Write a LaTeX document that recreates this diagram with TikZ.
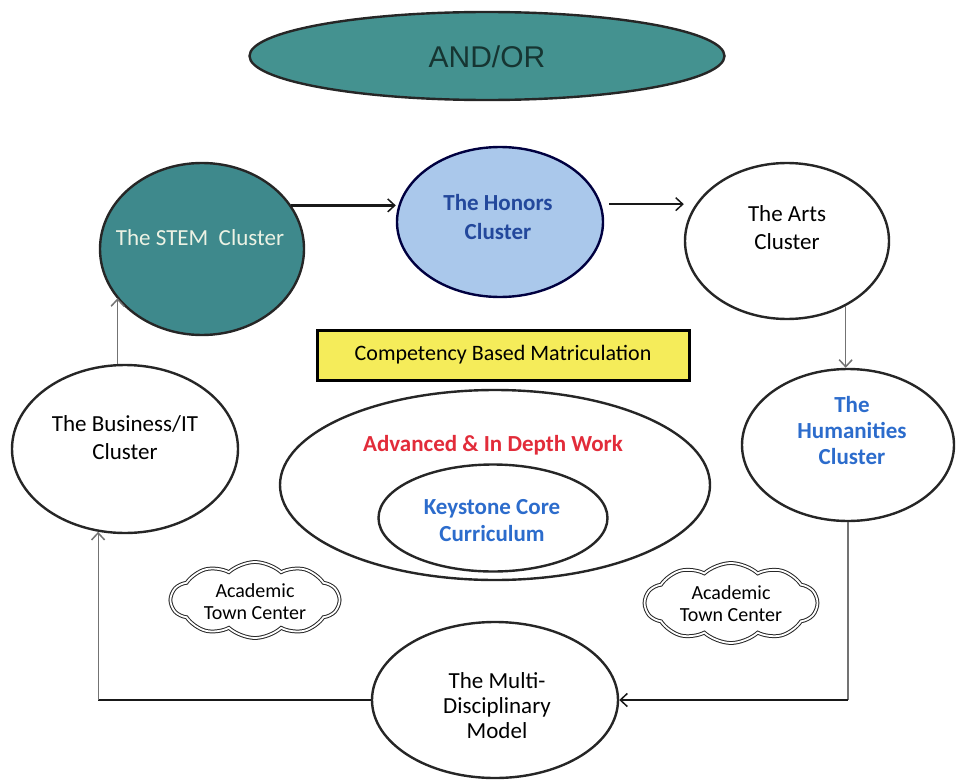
\documentclass[tikz,border=0pt]{standalone}
\usepackage{fontspec}
\setmainfont{Carlito}
\usetikzlibrary{shapes.geometric,shapes.symbols,arrows.meta,calc}
\definecolor{tealA}{RGB}{68,146,144}
\definecolor{tealS}{RGB}{62,137,140}
\definecolor{honfill}{RGB}{170,200,235}
\definecolor{hontext}{RGB}{35,72,156}
\definecolor{bluetext}{RGB}{44,108,204}
\definecolor{redtext}{RGB}{226,44,58}
\definecolor{yel}{RGB}{245,236,90}
\definecolor{stemtext}{RGB}{236,242,228}
\definecolor{andtext}{RGB}{22,53,50}
\begin{document}
\begin{tikzpicture}[x=1pt,y=-1pt,
  ell/.style={ellipse, draw=black!85, line width=2.4pt, inner sep=0pt},
  txt/.style={align=center, inner sep=0pt},
  hline/.style={draw=black!90, line width=2.2pt},
  vline/.style={draw=black!55, line width=1.2pt},
  tip/.style={-{Straight Barb[length=7pt,width=13pt,line width=1.5pt]}},
  cloudbox/.style={cloud, cloud puffs=10, cloud puff arc=85, draw=black!85, double=white, double distance=1.8pt, line width=1pt, inner sep=0pt}
]
\useasboundingbox (0,0) rectangle (961,784);

% top ellipse
\node[ell, fill=tealA, minimum width=475pt, minimum height=88pt] (andor) at (487,56) {};
\node[txt, text=andtext, font=\fontsize{30}{34}\fontspec{Liberation Sans}] (andorT) at (487,57) {AND/OR};

% clusters
\node[ell, fill=tealS, minimum width=204pt, minimum height=172pt] (stem) at (202,249) {};
\node[txt, text=stemtext, font=\fontsize{23}{28}\selectfont] (stemT) at (200,238) {The STEM\ \ Cluster};

\node[ell, fill=honfill, draw=black!75!blue, minimum width=206pt, minimum height=150pt] (honors) at (500,222) {};
\node[txt, text=hontext, font=\fontsize{23}{29}\selectfont\bfseries] (honorsT) at (498,217) {The Honors\\Cluster};

\node[ell, fill=white, minimum width=204pt, minimum height=156pt] (arts) at (787,241) {};
\node[txt, font=\fontsize{23}{28}\selectfont] (artsT) at (787,228) {The Arts\\Cluster};

\node[ell, fill=white, minimum width=212pt, minimum height=152pt] (hum) at (848,445) {};
\node[txt, text=bluetext, font=\fontsize{23}{26}\selectfont\bfseries] (humT) at (852,431) {The\\Humanities\\Cluster};

\node[ell, fill=white, minimum width=226pt, minimum height=168pt] (biz) at (125,449) {};
\node[txt, font=\fontsize{23}{28}\selectfont] (bizT) at (125,438) {The Business/IT\\Cluster};

\node[ell, fill=white, minimum width=246pt, minimum height=156pt] (multi) at (495,700) {};
\node[txt, font=\fontsize{23}{25}\selectfont] (multiT) at (497,706) {The Multi-\\Disciplinary\\Model};

% yellow bar
\node[draw=black, line width=3pt, fill=yel, minimum width=372pt, minimum height=50pt, inner sep=0pt,
      font=\fontsize{22}{26}\selectfont] (cbm) at (503,355) {Competency Based Matriculation};

% nested ellipses
\node[ell, fill=white, minimum width=430pt, minimum height=190pt] (adv) at (495,485) {};
\node[txt, text=redtext, font=\fontsize{23}{28}\selectfont\bfseries] (advT) at (493,445) {Advanced \& In Depth Work};
\node[ell, fill=white, minimum width=229pt, minimum height=107pt] (key) at (493,518) {};
\node[txt, text=bluetext, font=\fontsize{23}{27}\selectfont\bfseries] (keyT) at (492,521) {Keystone Core\\Curriculum};

% clouds
\node[cloudbox, minimum width=168pt, minimum height=76pt] (cloudL) at (255,600) {};
\node[txt, font=\fontsize{20}{22}\selectfont] (cloudLT) at (255,602) {Academic\\Town Center};
\node[cloudbox, minimum width=172pt, minimum height=80pt] (cloudR) at (731,603) {};
\node[txt, font=\fontsize{20}{22}\selectfont] (cloudRT) at (731,604) {Academic\\Town Center};

% connectors
\draw[hline, tip] (stem.26) -- (stem.26 -| honors.west);
\draw[hline, tip, shorten <=8pt] (honors.10) -- (honors.10 -| arts.west);
\draw[vline, tip] (arts.-48) -- (arts.-48 |- hum.north);
\coordinate (cR) at (hum.south |- multi.east);
\draw[vline] (hum.south) -- (cR);
\draw[hline, tip] (cR) -- (multi.east);
\coordinate (cL) at (biz.-108 |- multi.west);
\draw[hline] (multi.west) -- (cL);
\draw[vline, tip] (cL) -- (biz.-108);
\draw[vline, tip] (biz.95) -- (biz.95 |- stem.210);
\end{tikzpicture}
\end{document}
